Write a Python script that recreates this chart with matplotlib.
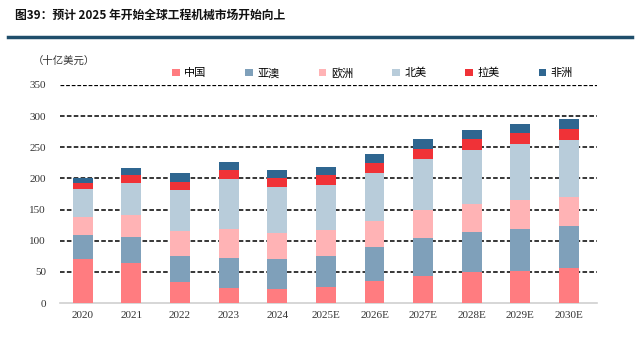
import numpy as np
import matplotlib
matplotlib.use("Agg")
import matplotlib.pyplot as plt

plt.rcParams['font.family'] = ['Noto Sans CJK SC', 'DejaVu Sans']

# data (十亿美元)
years = ["2020", "2021", "2022", "2023", "2024", "2025E",
         "2026E", "2027E", "2028E", "2029E", "2030E"]
regions = ["中国", "亚澳", "欧洲", "北美", "拉美", "非洲"]
china = [71, 65, 34, 24, 23, 26, 36, 44, 50, 52, 56]
asia_pac = [37.5, 41, 42, 48, 48, 50, 54, 61, 64, 67, 67]
europe = [29.5, 35, 39, 47, 41, 41, 42, 44, 45, 46, 48]
n_america = [45, 52, 66, 80, 74, 73, 77.5, 82, 87, 90, 91]
latam = [10, 12, 14, 14, 14, 15, 15.5, 16, 17, 17.5, 17.5]
africa = [7, 11.5, 14, 14, 13, 13, 14, 16, 15.5, 15.5, 16]
colors = ["#FF7C80", "#7FA0BA", "#FFB3B5", "#B8CCDA", "#F03237", "#2F6690"]

series = [china, asia_pac, europe, n_america, latam, africa]

fig = plt.figure(figsize=(6.38, 3.44), dpi=100)
ax = fig.add_axes([0.094, 0.119, 0.842, 0.634])

x = np.arange(len(years))
bottom = np.zeros(len(years))
for vals, c, name in zip(series, colors, regions):
    ax.bar(x, vals, width=0.41, bottom=bottom, color=c, label=name, zorder=3)
    bottom += np.array(vals)

ax.set_ylim(0, 350)
ax.set_xlim(-0.47, 10.58)
ax.set_yticks(range(0, 351, 50))
ax.set_xticks(x)
ax.set_xticklabels(years)
for lab in ax.get_xticklabels() + ax.get_yticklabels():
    lab.set_fontfamily('Liberation Serif')
    lab.set_fontsize(8)
    lab.set_color('#333333')
ax.tick_params(length=0, pad=6)
ax.tick_params(axis='y', pad=10)

# dashed grid lines
for v in range(50, 351, 50):
    lw = 0.9 if v == 350 else 1.1
    ax.axhline(v, color='black', linestyle=(0, (3, 1.5)), linewidth=lw, zorder=1)

for s in ['top', 'right', 'left']:
    ax.spines[s].set_visible(False)
ax.spines['bottom'].set_color('#D0D0D0')
ax.spines['bottom'].set_linewidth(1.2)

# legend
ax.legend(loc='lower left', bbox_to_anchor=(0.2, 1.01), ncol=6, frameon=False,
          fontsize=8, handlelength=0.7, handleheight=0.7, handletextpad=0.4,
          columnspacing=3.5, borderaxespad=0)

fig.text(0.052, 0.815, "（十亿美元）", fontsize=7.5, color='#333333')

# title and rule
fig.text(0.023, 0.955, "图39：预计 2025 年开始全球工程机械市场开始向上",
         fontsize=8.5, fontweight='bold', va='center', color='#111111')
fig.add_artist(plt.Line2D([0.013, 0.99], [0.893, 0.893], color='#1F4E6B',
                          linewidth=2.5, transform=fig.transFigure))

fig.savefig("out.png", dpi=100)
